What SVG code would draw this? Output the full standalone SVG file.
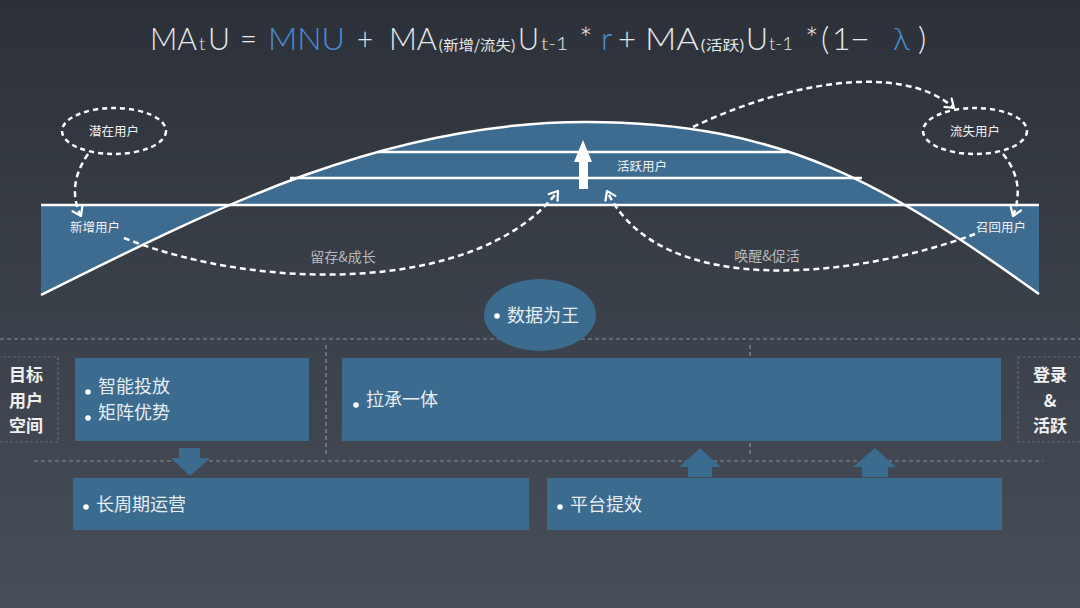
<svg xmlns="http://www.w3.org/2000/svg" width="1080" height="608" viewBox="0 0 1080 608">
<defs>
<linearGradient id="bg" x1="0" y1="0" x2="0" y2="1">
<stop offset="0" stop-color="#2c3139"/>
<stop offset="1" stop-color="#484e58"/>
</linearGradient>
<marker id="ah" viewBox="-10 -7 12 14" refX="0" refY="0" markerWidth="12" markerHeight="14" markerUnits="userSpaceOnUse" orient="auto">
<path d="M-8,-5.5 L0,0 L-8,5.5" fill="none" stroke="#ffffff" stroke-width="2.2" stroke-dasharray="none" stroke-linecap="round" stroke-linejoin="round"/>
</marker>
<style>
.t{font-family:Lato,"Open Sans","Liberation Sans","Noto Sans CJK SC",sans-serif;font-weight:300;fill:#e6eaee;font-size:32px}
.sub{font-size:18px}
.cn{font-size:14px;font-family:"Noto Sans CJK SC",sans-serif;font-weight:400}
.blue{fill:#4a8fd6}
.lbl{font-family:"Noto Sans CJK SC",sans-serif;font-size:12.5px;fill:#f2f2f2;text-anchor:middle}
.grey{font-family:"Noto Sans CJK SC",sans-serif;font-size:14px;fill:#b5b9be;text-anchor:middle}
.dash{fill:none;stroke:#ffffff;stroke-width:2.5;stroke-dasharray:6 4}
.oval{fill:none;stroke:#ffffff;stroke-width:2.5;stroke-dasharray:5 4}
.wl{stroke:#ffffff;stroke-width:2.5;fill:none}
.box{fill:#3b6b8f}
.bt{font-family:"Noto Sans CJK SC",sans-serif;font-size:18px;fill:#e8eef3}
.side{font-family:"Noto Sans CJK SC",sans-serif;font-size:17px;font-weight:700;fill:#f0f0f0;text-anchor:middle}
.gd{stroke:#8793a0;stroke-width:1.2;stroke-dasharray:4 3;fill:none}
.sd{stroke:#5a6d82;stroke-width:1.2;stroke-dasharray:3 2;fill:none}
</style>
</defs>
<rect x="0" y="0" width="1080" height="608" fill="url(#bg)"/>

<g id="title">
<text x="150" y="50" class="t" textLength="47" lengthAdjust="spacingAndGlyphs">MA</text>
<text x="199" y="50" class="t sub">t</text>
<text x="208" y="50" class="t" textLength="22" lengthAdjust="spacingAndGlyphs">U</text>
<text x="240" y="50" class="t" textLength="17" lengthAdjust="spacingAndGlyphs">=</text>
<text x="268" y="50" class="t blue" textLength="77" lengthAdjust="spacingAndGlyphs">MNU</text>
<text x="357" y="50" class="t" textLength="16" lengthAdjust="spacingAndGlyphs">+</text>
<text x="389" y="50" class="t" textLength="48" lengthAdjust="spacingAndGlyphs">MA</text>
<text x="438" y="50" class="t cn" textLength="78" lengthAdjust="spacingAndGlyphs">(新增/流失)</text>
<text x="518" y="50" class="t" textLength="21" lengthAdjust="spacingAndGlyphs">U</text>
<text x="541" y="50" class="t sub" textLength="27" lengthAdjust="spacingAndGlyphs">t-1</text>
<text x="579" y="50" class="t">*</text>
<text x="601" y="50" class="t blue">r</text>
<text x="618" y="50" class="t" textLength="18" lengthAdjust="spacingAndGlyphs">+</text>
<text x="645" y="50" class="t" textLength="54" lengthAdjust="spacingAndGlyphs">MA</text>
<text x="700" y="50" class="t cn" textLength="45" lengthAdjust="spacingAndGlyphs">(活跃)</text>
<text x="746" y="50" class="t" textLength="22" lengthAdjust="spacingAndGlyphs">U</text>
<text x="769" y="50" class="t sub" textLength="24" lengthAdjust="spacingAndGlyphs">t-1</text>
<text x="805" y="50" class="t">*</text>
<text x="821" y="50" class="t">(</text>
<text x="832" y="50" class="t">1</text>
<text x="850" y="50" class="t" textLength="20" lengthAdjust="spacingAndGlyphs">−</text>
<text x="893" y="50" class="t blue">λ</text>
<text x="918" y="50" class="t">)</text>
</g>

<g id="curve">
<path d="M41,205 L1039,205 L1039,294 C889,187 786,122 586,122 C386,122 221,205 41,295 Z" fill="#3e6b90" fill-rule="evenodd"/>
<path d="M41,295 C221,205 386,122 586,122 C786,122 889,187 1039,294" class="wl"/>
<line x1="41" y1="205" x2="1039" y2="205" class="wl"/>
<line x1="378" y1="152" x2="787" y2="152" class="wl"/>
<line x1="290" y1="178" x2="862" y2="178" class="wl"/>
</g>

<g id="up-arrow">
<path d="M583,140 L592,162 L588,162 L588,189 L579,189 L579,162 L574,162 Z" fill="#ffffff"/>
</g>

<g id="potential">
<ellipse cx="114" cy="131" rx="52" ry="23" class="oval"/>
<text x="114" y="135.5" class="lbl">潜在用户</text>
</g>
<g id="lost">
<ellipse cx="975" cy="131" rx="52" ry="23" class="oval"/>
<text x="975" y="135.5" class="lbl">流失用户</text>
</g>
<g id="new">
<text x="95" y="232" class="lbl">新增用户</text>
</g>
<g id="recall">
<text x="1001" y="232" class="lbl">召回用户</text>
</g>
<g id="active">
<text x="642" y="171" class="lbl">活跃用户</text>
</g>

<g id="connectors">
<path d="M88,154 Q66,186 81,216" class="dash" marker-end="url(#ah)"/>
<path d="M124,238 C260,292 480,294 558,191" class="dash" marker-end="url(#ah)"/>
<path d="M975,234 C860,277 660,302 607,191" class="dash" marker-end="url(#ah)"/>
<path d="M693,127 C780,85 900,60 954,108" class="dash" marker-end="url(#ah)"/>
<path d="M1003,154 Q1026,182 1013,216" class="dash" marker-end="url(#ah)"/>
<text x="343" y="262" class="grey">留存&amp;成长</text>
<text x="767" y="261" class="grey">唤醒&amp;促活</text>
</g>

<g id="grid">
<line x1="0" y1="339" x2="1080" y2="339" class="gd"/>
<line x1="34" y1="461" x2="1043" y2="461" class="gd"/>
<line x1="326" y1="345" x2="326" y2="454" class="gd"/>
<line x1="750" y1="345" x2="750" y2="454" class="gd"/>
</g>

<g id="data-king">
<ellipse cx="540" cy="315" rx="56" ry="36" fill="#3b6b8f"/>
<circle cx="497" cy="316" r="2.8" fill="#ffffff"/>
<text x="507" y="322" class="bt">数据为王</text>
</g>

<g id="target-space">
<rect x="-2" y="357" width="60" height="85" class="sd"/>
<text x="26" y="381" class="side">目标</text>
<text x="26" y="407" class="side">用户</text>
<text x="26" y="432" class="side">空间</text>
</g>

<g id="login-active">
<rect x="1018" y="357" width="66" height="85" class="sd"/>
<text x="1050" y="381" class="side">登录</text>
<text x="1050" y="407" class="side">&amp;</text>
<text x="1050" y="432" class="side">活跃</text>
</g>

<g id="box-smart">
<rect x="75" y="358" width="234" height="83" class="box"/>
<circle cx="88" cy="392" r="2.8" fill="#ffffff"/>
<text x="98" y="393" class="bt">智能投放</text>
<circle cx="88" cy="418" r="2.8" fill="#ffffff"/>
<text x="98" y="419" class="bt">矩阵优势</text>
</g>

<g id="box-pull">
<rect x="342" y="358" width="659" height="83" class="box"/>
<circle cx="356" cy="405" r="2.8" fill="#ffffff"/>
<text x="366" y="406" class="bt">拉承一体</text>
</g>

<g id="box-long">
<rect x="73" y="478" width="456" height="52" class="box"/>
<circle cx="86" cy="507" r="2.8" fill="#ffffff"/>
<text x="96" y="511" class="bt">长周期运营</text>
</g>

<g id="box-platform">
<rect x="547" y="478" width="455" height="52" class="box"/>
<circle cx="560" cy="507" r="2.8" fill="#ffffff"/>
<text x="570" y="511" class="bt">平台提效</text>
</g>

<g id="block-arrows">
<path d="M179,448 L200,448 L200,458 L210,458 L190,476 L171,458 L179,458 Z" fill="#3b6b8f"/>
<path d="M700,448 L721,467 L712,467 L712,477 L688,477 L688,467 L679,467 Z" fill="#3b6b8f"/>
<path d="M875,448 L896,467 L888,467 L888,477 L862,477 L862,467 L853,467 Z" fill="#3b6b8f"/>
</g>
</svg>
